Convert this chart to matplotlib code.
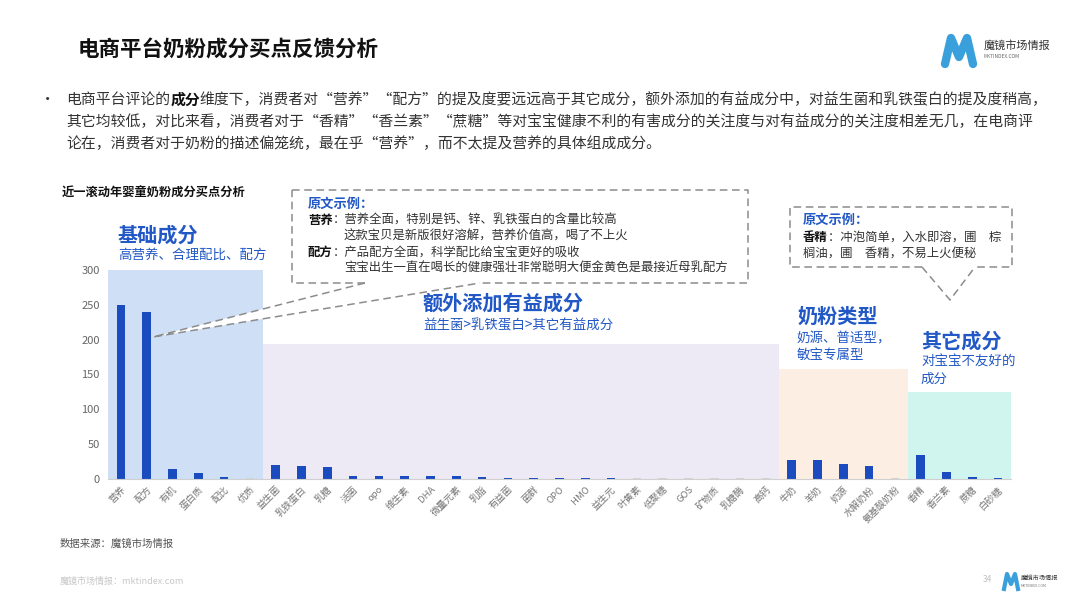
import matplotlib
matplotlib.use("Agg")
import matplotlib.pyplot as plt
from matplotlib.patches import Polygon

plt.rcParams['font.family'] = ['Noto Sans CJK SC', 'DejaVu Sans']

# data
ingredients = ['营养', '配方', '有机', '蛋白质', '配比', '优质',
               '益生菌', '乳铁蛋白', '乳糖', '活菌', 'opo', '维生素', 'DHA', '微量元素',
               '乳脂', '有益菌', '菌群', 'OPO', 'HMO', '益生元', '叶黄素', '低聚糖', 'GOS',
               '矿物质', '乳糖酶', '高钙',
               '牛奶', '羊奶', '奶源', '水解奶粉', '氨基酸奶粉',
               '香精', '香兰素', '蔗糖', '白砂糖']
mentions = [250, 239, 14, 8, 3, 1,
            20, 19, 17, 5, 5, 4, 4, 4, 3, 2, 2, 2, 2, 2, 1, 1, 1, 1, 1, 1,
            27, 27, 22, 19, 1,
            35, 10, 3, 2]

group_names = ['基础成分', '额外添加有益成分', '奶粉类型', '其它成分']
group_sizes = [6, 20, 5, 4]
group_heights = [300, 194, 158, 125]
group_colors = ['#cfe0f6', '#eeeaf5', '#fdeee3', '#d0f5ef']

BLUE = '#1a4cc0'
TBLUE = '#2158c6'

fig = plt.figure(figsize=(10.8, 6.08), dpi=100)
fig.patch.set_facecolor('white')

# chart axes (pixel box: x 108..1011, y 270..479)
ax = fig.add_axes([108 / 1080, 1 - 479 / 608, 903 / 1080, 209 / 608])
ax.set_facecolor('none')

# background bands for each group
start = 0
for size, h, c in zip(group_sizes, group_heights, group_colors):
    ax.bar(start - 0.5 + size / 2, h, width=size, color=c, zorder=0)
    start += size

x = list(range(len(ingredients)))
bar_colors = [BLUE if v > 1 else '#d3d3d3' for v in mentions]
ax.bar(x, mentions, width=0.33, color=bar_colors, zorder=2)

ax.set_xlim(-0.5, len(ingredients) - 0.5)
ax.set_ylim(0, 300)
ax.set_yticks(range(0, 301, 50))
ax.set_xticks(x)
ax.set_xticklabels(ingredients, rotation=45, ha='right', rotation_mode='anchor',
                   fontsize=6.8, color='#777777')
ax.tick_params(axis='y', length=0, labelsize=8, labelcolor='#666666', pad=6)
ax.tick_params(axis='x', length=0, pad=4)
for s in ['top', 'right', 'left']:
    ax.spines[s].set_visible(False)
ax.spines['bottom'].set_color('#d0d0d0')
ax.spines['bottom'].set_zorder(3)

# overlay in pixel coordinates for slide text and callouts
ov = fig.add_axes([0, 0, 1, 1])
ov.set_xlim(0, 1080)
ov.set_ylim(608, 0)
ov.axis('off')
ov.patch.set_alpha(0)

ov.text(78, 50, '电商平台奶粉成分买点反馈分析', fontsize=15.5, fontweight='bold',
        color='#111111', va='center')

# logo
ov.plot([945, 951, 959, 967, 973], [64, 38, 57, 38, 64], color='#3aa0dc', lw=6,
        solid_capstyle='round', solid_joinstyle='round')
ov.text(984, 45, '魔镜市场情报', fontsize=8, color='#333333', va='center')
ov.text(984, 57, 'MKTINDEX.COM', fontsize=3.5, color='#666666', va='center')

renderer = fig.canvas.get_renderer()


def rich(x0, y0, parts, size, color='#333333'):
    cx = x0
    for txt, bold, col in parts:
        t = ov.text(cx, y0, txt, fontsize=size, va='center',
                    fontweight='bold' if bold else 'normal', color=col or color)
        bb = t.get_window_extent(renderer)
        cx += bb.width


# bullet paragraph
ov.text(40, 100, '•', fontsize=11, color='#333333', va='center')
rich(66, 100, [('电商平台评论的', False, None), ('成分', True, '#111111'),
               ('维度下，消费者对“营养”“配方”的提及度要远远高于其它成分，额外添加的有益成分中，对益生菌和乳铁蛋白的提及度稍高，',
                False, None)], 10.7)
ov.text(66, 122, '其它均较低，对比来看，消费者对于“香精”“香兰素”“蔗糖”等对宝宝健康不利的有害成分的关注度与对有益成分的关注度相差无几，在电商评',
        fontsize=10.7, color='#333333', va='center')
ov.text(66, 144, '论在，消费者对于奶粉的描述偏笼统，最在乎“营养”，而不太提及营养的具体组成成分。',
        fontsize=10.7, color='#333333', va='center')

ov.text(62, 193, '近一滚动年婴童奶粉成分买点分析', fontsize=8.8, fontweight='bold',
        color='#111111', va='center')

# group headings
ov.text(118, 235, group_names[0], fontsize=14.5, fontweight='bold', color=TBLUE, va='center')
ov.text(118, 255, '高营养、合理配比、配方', fontsize=9.7, color=TBLUE, va='center')
ov.text(423, 303, group_names[1], fontsize=14.5, fontweight='bold', color=TBLUE, va='center')
ov.text(423, 325, '益生菌>乳铁蛋白>其它有益成分', fontsize=9.7, color=TBLUE, va='center')
ov.text(797, 316, group_names[2], fontsize=14.5, fontweight='bold', color=TBLUE, va='center')
ov.text(797, 338, '奶源、普适型，', fontsize=9.7, color=TBLUE, va='center')
ov.text(797, 355, '敏宝专属型', fontsize=9.7, color=TBLUE, va='center')
ov.text(921, 341, group_names[3], fontsize=14.5, fontweight='bold', color=TBLUE, va='center')
ov.text(921, 362, '对宝宝不友好的', fontsize=9.7, color=TBLUE, va='center')
ov.text(921, 379, '成分', fontsize=9.7, color=TBLUE, va='center')

dash = dict(color='#8c8c8c', lw=1.1, ls=(0, (5, 3)))

# callout 1
ov.add_patch(Polygon([[153, 337], [365, 283], [480, 283]], closed=True,
                     facecolor='white', edgecolor='none', zorder=1))
ov.plot([292, 748, 748, 480], [190, 190, 283, 283], **dash)
ov.plot([365, 292, 292], [283, 283, 190], **dash)
ov.plot([365, 153, 480], [283, 337, 283], **dash)
ov.text(308, 204, '原文示例：', fontsize=9.5, fontweight='bold', color=TBLUE, va='center')
rich(308, 220, [('营养', True, '#111111'), ('：营养全面，特别是钙、锌、乳铁蛋白的含量比较高', False, None)],
     8.9)
ov.text(344, 236, '这款宝贝是新版很好溶解，营养价值高，喝了不上火', fontsize=8.9,
        color='#333333', va='center')
rich(308, 252, [('配方', True, '#111111'), ('：产品配方全面，科学配比给宝宝更好的吸收', False, None)], 8.9)
ov.text(344, 268, '宝宝出生一直在喝长的健康强壮非常聪明大便金黄色是最接近母乳配方', fontsize=8.9,
        color='#333333', va='center')

# callout 2
ov.plot([922, 790, 790, 1012, 1012, 975], [267, 267, 207, 207, 267, 267], **dash)
ov.plot([922, 950, 975], [267, 300, 267], **dash)
ov.text(803, 220, '原文示例：', fontsize=9.5, fontweight='bold', color=TBLUE, va='center')
rich(803, 237, [('香精', True, '#111111'), ('：冲泡简单，入水即溶，圃　棕', False, None)], 8.9)
ov.text(803, 253, '榈油，圃　香精，不易上火便秘', fontsize=8.9, color='#333333', va='center')

# footer
ov.text(60, 544, '数据来源：魔镜市场情报', fontsize=7.5, color='#555555', va='center')
ov.text(60, 581, '魔镜市场情报：mktindex.com', fontsize=6.5, color='#c8c8c8', va='center')
ov.text(992, 580, '34', fontsize=6, color='#c0c0c0', va='center', ha='right')
ov.plot([1004, 1007, 1011, 1015, 1018], [589, 574, 584, 574, 589], color='#3aa0dc', lw=3,
        solid_joinstyle='round')
ov.text(1021, 578, '魔镜市场情报', fontsize=4.5, color='#333333', va='center')
ov.text(1021, 586, 'MKTINDEX.COM', fontsize=2.5, color='#777777', va='center')

fig.savefig('out.png', dpi=100, facecolor='white')
